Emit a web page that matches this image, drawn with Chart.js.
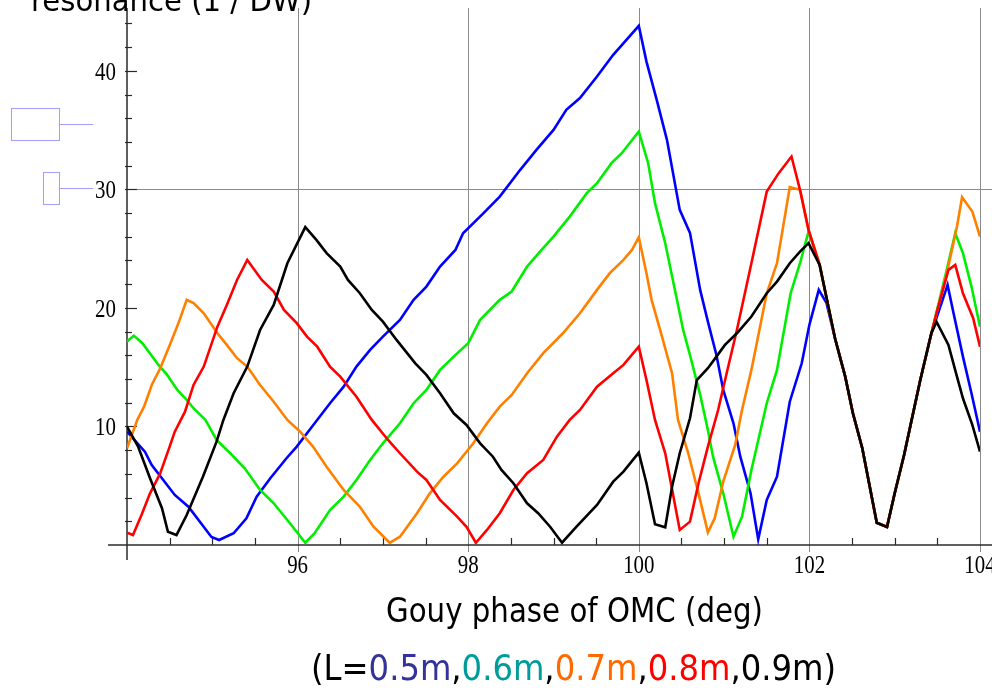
<!DOCTYPE html>
<html><head><meta charset="utf-8">
<script src="https://cdn.jsdelivr.net/npm/chart.js@4/dist/chart.umd.min.js"></script>
<style>html,body{margin:0;padding:0;background:#fff;overflow:hidden}#wrap{width:992px;height:691px;position:relative}</style>
</head><body><div id="wrap"><canvas id="c" width="992" height="691"></canvas></div>
<script>
// ---- data ----
const blueX = [94.00,94.21,94.29,94.56,94.72,94.99,95.08,95.25,95.40,95.52,95.68,95.87,95.99,96.20,96.38,96.54,96.69,96.85,97.00,97.20,97.36,97.51,97.67,97.85,97.94,98.18,98.37,98.61,98.80,99.00,99.15,99.31,99.51,99.70,100.00,100.09,100.21,100.33,100.48,100.60,100.72,100.81,100.91,100.99,101.11,101.19,101.31,101.40,101.50,101.62,101.77,101.91,102.00,102.11,102.20,102.30,102.42,102.51,102.62,102.79,102.91,103.00,103.11,103.30,103.43,103.62,103.69,103.80,103.90,104.00];
const blueY = [9.56,7.87,6.75,4.22,3.23,0.68,0.42,0.99,2.25,4.08,5.63,7.32,8.30,10.27,11.96,13.36,15.05,16.46,17.58,18.99,20.68,21.80,23.49,24.89,26.30,27.99,29.39,31.65,33.33,35.02,36.71,37.70,39.52,41.35,43.80,40.78,37.55,34.18,28.27,26.33,21.50,18.84,16.03,13.08,10.27,7.45,4.36,0.48,3.80,5.76,12.09,15.33,18.57,21.52,20.42,17.44,14.20,11.11,8.16,1.88,1.52,4.36,7.59,13.92,17.86,21.94,19.55,15.89,12.80,9.56];

const greenX = [94.00,94.08,94.18,94.37,94.47,94.59,94.70,94.78,94.92,95.05,95.21,95.38,95.56,95.72,95.91,96.09,96.20,96.38,96.54,96.69,96.85,97.00,97.20,97.36,97.51,97.67,97.83,98.00,98.14,98.37,98.51,98.69,98.86,99.00,99.19,99.39,99.51,99.68,99.80,100.00,100.11,100.19,100.31,100.44,100.52,100.60,100.72,100.81,100.87,100.99,101.11,101.21,101.32,101.50,101.62,101.78,101.89,101.99,102.12,102.30,102.42,102.51,102.62,102.79,102.91,103.00,103.11,103.30,103.43,103.61,103.71,103.80,103.90,104.00];
const greenY = [17.16,17.66,17.02,15.19,14.35,13.08,12.24,11.54,10.55,8.86,7.74,6.47,4.64,3.52,1.83,0.19,0.99,2.95,4.08,5.49,7.17,8.58,10.27,11.96,13.08,14.77,15.89,17.02,18.99,20.68,21.38,23.49,24.89,26.02,27.70,29.68,30.52,32.21,33.05,34.88,32.21,28.84,25.46,20.95,18.14,16.03,12.66,9.70,7.45,4.36,0.70,2.39,6.33,11.96,14.77,21.24,23.77,26.44,23.63,17.44,14.20,11.11,8.16,1.88,1.52,4.36,7.59,13.92,17.86,23.21,26.30,24.62,21.80,18.42];

const orangeX = [94.00,94.12,94.20,94.29,94.39,94.51,94.61,94.70,94.78,94.90,95.06,95.17,95.29,95.41,95.56,95.72,95.88,96.03,96.18,96.34,96.54,96.73,96.89,97.08,97.20,97.40,97.55,97.71,97.87,98.06,98.22,98.37,98.51,98.69,98.88,99.11,99.31,99.51,99.66,99.82,99.92,100.00,100.09,100.15,100.25,100.39,100.46,100.58,100.70,100.81,100.89,100.99,101.13,101.21,101.32,101.50,101.62,101.77,101.89,101.99,102.12,102.30,102.42,102.51,102.62,102.79,102.91,103.00,103.11,103.30,103.43,103.62,103.73,103.79,103.91,104.00];
const orangeY = [8.16,10.55,11.67,13.50,14.91,17.02,18.84,20.68,20.40,19.55,17.86,16.88,15.76,15.05,13.50,12.09,10.55,9.56,8.30,6.61,4.64,3.23,1.54,0.19,0.70,2.68,4.36,5.76,6.89,8.58,10.27,11.67,12.66,14.49,16.18,17.86,19.55,21.52,22.93,24.05,24.89,25.97,22.93,20.68,18.14,14.49,10.55,7.74,4.36,1.07,2.25,5.34,8.44,11.39,14.77,21.24,23.77,30.19,29.96,26.58,23.63,17.44,14.20,11.11,8.16,1.88,1.52,4.36,7.59,13.92,17.86,23.21,26.86,29.34,28.13,26.02];

const redX = [94.00,94.07,94.17,94.27,94.39,94.50,94.56,94.68,94.78,94.90,95.06,95.17,95.29,95.41,95.58,95.72,95.84,95.99,96.11,96.23,96.38,96.50,96.69,96.87,97.06,97.20,97.40,97.51,97.67,97.87,97.98,98.09,98.22,98.37,98.53,98.69,98.88,99.04,99.19,99.31,99.51,99.70,99.82,100.00,100.09,100.19,100.31,100.48,100.60,100.70,100.81,100.93,101.03,101.15,101.32,101.50,101.64,101.79,101.89,101.99,102.12,102.30,102.42,102.51,102.62,102.79,102.91,103.00,103.11,103.30,103.43,103.49,103.63,103.71,103.80,103.92,104.00];
const redY = [1.04,0.84,2.53,4.36,6.05,8.30,9.56,11.25,13.50,15.05,18.42,20.25,22.36,24.05,22.36,21.38,19.83,18.71,17.58,16.73,15.05,14.20,12.51,10.55,8.86,7.74,6.19,5.49,3.80,2.39,1.54,0.19,1.27,2.68,4.64,6.05,7.17,9.14,10.55,11.39,13.36,14.49,15.19,16.73,13.92,10.55,7.74,1.27,1.97,5.21,8.30,11.39,14.49,18.14,23.77,29.81,31.37,32.77,29.96,26.58,23.63,17.44,14.20,11.11,8.16,1.88,1.52,4.36,7.59,13.92,17.86,19.55,23.21,23.63,21.24,19.13,16.73];

const blackX = [94.00,94.13,94.27,94.41,94.48,94.58,94.70,94.89,95.05,95.13,95.25,95.41,95.56,95.72,95.88,96.09,96.22,96.34,96.50,96.59,96.73,96.87,97.00,97.16,97.38,97.51,97.67,97.83,97.98,98.14,98.29,98.39,98.53,98.69,98.82,98.96,99.10,99.27,99.51,99.70,99.82,100.00,100.09,100.19,100.31,100.39,100.48,100.60,100.68,100.81,100.91,101.01,101.15,101.32,101.50,101.62,101.77,101.89,101.99,102.12,102.30,102.42,102.51,102.62,102.79,102.91,103.00,103.11,103.30,103.43,103.49,103.63,103.73,103.80,103.91,104.00];
const blackY = [9.98,8.30,5.63,3.10,1.12,0.84,2.53,5.76,8.72,10.55,12.80,15.05,18.14,20.25,23.77,26.81,25.74,24.62,23.49,22.36,21.24,19.83,18.84,17.30,15.33,14.35,12.80,11.11,10.13,8.58,7.45,6.33,5.21,3.52,2.68,1.54,0.19,1.54,3.38,5.34,6.19,7.79,5.21,1.75,1.49,4.92,7.74,10.69,13.92,14.91,15.89,16.88,17.86,19.27,21.24,22.22,23.77,24.75,25.46,23.63,17.44,14.20,11.11,8.16,1.88,1.52,4.36,7.59,13.92,17.86,18.84,16.88,14.20,12.38,10.13,7.88];

const xTickLabels = [96, 98, 100, 102, 104];
const yTickLabels = [10, 20, 30, 40];
const yGridLines = [30];
const lengthLabels = ['0.5m', '0.6m', '0.7m', '0.8m', '0.9m'];
const yAxisTitle = 'resonance (1 / DW)';
const xAxisTitle = 'Gouy phase of OMC (deg)';

// ---- build datasets ----
function pts(xs, ys){ return xs.map((x,i)=>({x:x, y:ys[i]})); }
const seriesDefs = [
  {name: lengthLabels[0], xs: blueX,   ys: blueY,   color:'#0000ff', order:4},
  {name: lengthLabels[1], xs: greenX,  ys: greenY,  color:'#00ee00', order:3},
  {name: lengthLabels[2], xs: orangeX, ys: orangeY, color:'#ff8000', order:2},
  {name: lengthLabels[3], xs: redX,    ys: redY,    color:'#ff0000', order:1},
  {name: lengthLabels[4], xs: blackX,  ys: blackY,  color:'#000000', order:0}
];
const datasets = seriesDefs.map(s=>({
  label: s.name, data: pts(s.xs, s.ys), borderColor: s.color, backgroundColor: s.color,
  borderWidth: 2.6, pointRadius: 0, showLine: true, tension: 0, fill: false, order: s.order,
  borderJoinStyle: 'miter'
}));

const LEFT=127, RIGHT=12, TOP=8, BOTTOM=146;

function line(ctx,x1,y1,x2,y2){ ctx.beginPath(); ctx.moveTo(x1,y1); ctx.lineTo(x2,y2); ctx.stroke(); }

function fitText(ctx, parts, left, baseline, targetW, size, family){
  ctx.font = size + 'px ' + family;
  const total = parts.reduce((s,p)=>s+ctx.measureText(p.t).width,0);
  const sx = targetW/total;
  ctx.save(); ctx.translate(left, baseline); ctx.scale(sx,1);
  ctx.textAlign='left'; ctx.textBaseline='alphabetic';
  let x=0;
  for (const p of parts){ ctx.fillStyle=p.c; ctx.fillText(p.t,x,0); x+=ctx.measureText(p.t).width; }
  ctx.restore();
}

const deco = {
  id:'deco',
  beforeDatasetsDraw(chart){
    const {ctx, chartArea:a, scales:{x,y}} = chart;
    ctx.save();
    // grid lines
    ctx.strokeStyle='#8a8a8a'; ctx.lineWidth=1;
    for (const v of xTickLabels){ const px=Math.round(x.getPixelForValue(v))+0.5; line(ctx,px,a.top,px,a.bottom+7); }
    for (const v of yGridLines){ const py=Math.round(y.getPixelForValue(v))+0.5; line(ctx,a.left,py,chart.width,py); }
    // axes
    ctx.strokeStyle='#2a2a2a'; ctx.lineWidth=1.5;
    line(ctx,a.left,a.top,a.left,a.bottom+15);
    line(ctx,a.left-19,a.bottom,chart.width,a.bottom);
    // x minor ticks (inward)
    ctx.lineWidth=1.2;
    for (let k=1;k<20;k++){ const v=94+k*0.5; if (xTickLabels.includes(v)) continue; const px=Math.round(x.getPixelForValue(v))+0.5; line(ctx,px,a.bottom,px,a.bottom-7); }
    // y ticks (inward)
    for (let k=1;k<=22;k++){ const v=k*2; const py=Math.round(y.getPixelForValue(v))+0.5; const len=(v%10===0)?10:5; line(ctx,a.left-2,py,a.left+len,py); }
    ctx.restore();
  },
  afterDraw(chart){
    const {ctx, chartArea:a, scales:{x,y}} = chart;
    ctx.save();
    ctx.fillStyle='#000';
    ctx.font='22px "Liberation Serif"';
    ctx.textAlign='center'; ctx.textBaseline='alphabetic';
    for (const v of xTickLabels){
      const px=x.getPixelForValue(v);
      ctx.save(); ctx.translate(px, a.bottom+28); ctx.scale(0.95,1.18); ctx.fillText(String(v),0,0); ctx.restore();
    }
    ctx.textAlign='right';
    for (const v of yTickLabels){
      const py=y.getPixelForValue(v);
      ctx.save(); ctx.translate(a.left-11, py+9); ctx.scale(0.95,1.18); ctx.fillText(String(v),0,0); ctx.restore();
    }
    // stray light-blue shapes at the left
    ctx.strokeStyle='#9f9fff'; ctx.lineWidth=1;
    ctx.strokeRect(11.5,108.5,48,32); line(ctx,59.5,124.5,93,124.5);
    ctx.strokeRect(43.5,172.5,16,32); line(ctx,59.5,188.5,93,188.5);
    // titles
    const fam='"DejaVu Sans"';
    fitText(ctx,[{t:yAxisTitle,c:'#000'}],31,11,281,30,fam);
    fitText(ctx,[{t:xAxisTitle,c:'#000'}],386,622,377,33,fam);
    const cols=['#33339a','#009b9b','#ff6a00','#ff0000','#000000'];
    const parts=[{t:'(L=',c:'#000'}];
    lengthLabels.forEach((l,i)=>{ parts.push({t:l,c:cols[i]}); parts.push({t:(i<lengthLabels.length-1)?',':')',c:'#000'}); });
    fitText(ctx,parts,311,680,525,36,fam);
    ctx.restore();
  }
};

new Chart(document.getElementById('c'), {
  type:'scatter',
  data:{datasets},
  options:{
    responsive:false, animation:false, devicePixelRatio:1,
    layout:{padding:{left:LEFT,right:RIGHT,top:TOP,bottom:BOTTOM}},
    plugins:{legend:{display:false}, title:{display:false}, tooltip:{enabled:false}},
    scales:{
      x:{type:'linear', min:94, max:104, display:false},
      y:{type:'linear', min:0, max:45.3, display:false}
    }
  },
  plugins:[deco]
});
</script>
</body></html>
